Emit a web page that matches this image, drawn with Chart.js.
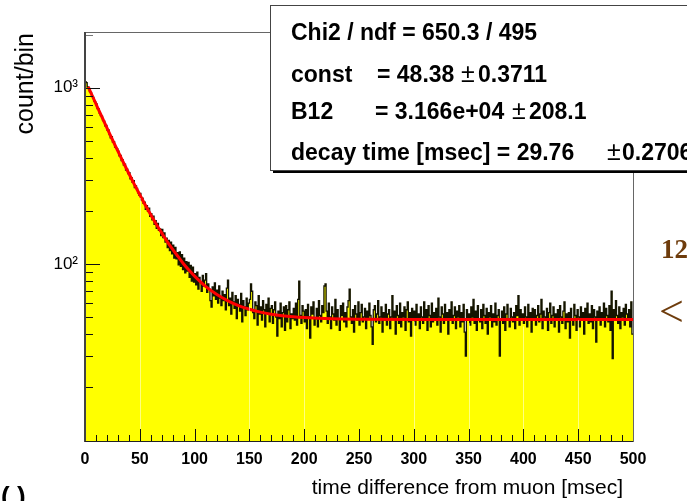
<!DOCTYPE html>
<html><head><meta charset="utf-8">
<script src="https://cdn.jsdelivr.net/npm/chart.js@4.4.1/dist/chart.umd.min.js"></script>
<style>html,body{margin:0;padding:0;background:#fff;overflow:hidden}#wrap{width:687px;height:501px;position:relative}</style>
</head><body><div id="wrap"><canvas id="c" width="687" height="501"></canvas></div>
<script>
// ---- data ----
const xTickLabels = ['0','50','100','150','200','250','300','350','400','450','500'];
const yTickValues = [100, 1000];
const yTickLabels = ['10\u00B2', '10\u00B3'];
const xTitle = 'time difference from muon [msec]';
const yTitle = 'count/bin';
// counts per 1 msec bin, bins 0..499
const counts = [
1082,1068,1009,1003,951,940,894,880,839,829,
808,760,758,716,694,689,651,647,608,611,
574,577,541,520,527,492,494,460,455,449,
437,410,413,386,389,364,368,341,345,326,
330,304,309,290,297,271,277,268,253,246,
251,231,236,221,224,204,214,199,207,186,
193,178,187,168,176,159,170,155,158,145,
157,141,150,133,140,124,136,119,133,114,
128,108,124,107,116,99,117,97,113,93,
108,89,103,91,102,84,98,80,96,79,
88,76,90,72,84,79,70,86,75,81,
88,69,77,72,62,57,74,66,78,63,
71,60,75,64,58,70,62,67,55,73,
81,58,64,52,69,61,56,66,49,63,
59,54,68,47,62,57,51,64,55,60,
63,77,70,53,49,61,58,45,66,52,
57,48,62,55,44,59,53,64,47,56,
58,46,55,61,50,39,54,49,60,44,
53,57,42,58,47,55,61,43,52,49,
56,48,60,45,63,80,51,46,58,54,
47,55,43,59,50,38,57,52,61,45,
49,56,44,62,51,47,58,53,75,77,
54,46,60,50,43,57,52,48,63,45,
55,49,42,58,51,60,47,53,44,57,
62,72,50,46,55,41,58,52,48,61,
45,53,59,47,50,56,43,54,49,60,
51,44,35,55,58,47,52,62,46,50,
57,41,53,48,59,45,52,55,43,50,
66,49,54,40,58,51,46,60,44,53,
50,57,42,55,61,47,53,39,56,49,
54,45,59,48,52,43,57,50,46,61,
48,55,42,58,51,44,60,47,53,49,
56,45,64,50,41,57,52,46,59,48,
53,40,55,49,61,46,51,57,43,54,
50,58,44,53,47,59,41,30,55,48,
52,45,57,50,63,46,54,42,58,49,
47,55,43,59,51,46,56,40,53,50,
58,44,52,47,60,45,51,55,30,49,
54,46,57,42,52,59,48,44,56,50,
47,53,43,58,51,66,45,55,49,52,
46,57,50,44,59,48,53,41,56,49,
55,45,51,58,47,52,63,43,54,50,
48,56,42,53,60,46,51,57,44,52,
49,55,41,58,50,46,54,61,43,52,
47,53,38,56,49,45,59,51,42,55,
50,44,57,48,53,40,56,49,60,46,
52,47,58,43,55,50,36,54,48,57,
45,53,49,60,44,56,51,47,58,42,
70,29,55,48,62,51,46,57,43,53,
50,56,45,59,52,48,55,44,61,40
];
// fitted curve, read at sample times
const fitT = [3,5,10,15,20,25,30,35,40,45,50,55,60,65,70,75,80,85,90,95,100,110,120,130,140,150,160,170,180,190,200,225,250,300,350,400,450,500];
const fitY = [1010,948,809,691,592,508,437,377,326,283,247,216,190,168,150,134,121,110,100,92.1,85.3,74.6,67.3,61.9,58.0,55.3,53.3,51.9,50.9,50.2,49.7,48.9,48.6,48.4,48.4,48.4,48.4,48.4];
const statsRows = [
  ['Chi2 / ndf = 650.3 / 495'],
  ['const', '= 48.38', '\u00B1', '0.3711'],
  ['B12', '= 3.166e+04', '\u00B1', '208.1'],
  ['decay time [msec] = 29.76', '\u00B1', '0.2706']
];
const sideLabels = ['12', '<'];
const cornerLabel = '( )';

// ---- chart ----
const histPoints = counts.map((v, i) => ({x: i, y: v}));
histPoints.push({x: counts.length, y: counts[counts.length - 1]});
const fitPoints = fitT.map((t, i) => ({x: t, y: fitY[i]}));

const SANS = '"Liberation Sans", Arial, sans-serif';
const NARROW = '"Liberation Sans Narrow", "Liberation Sans", Arial, sans-serif';

const decor = {
  id: 'decor',
  beforeDraw(chart) {
    const ctx = chart.ctx;
    ctx.save(); ctx.fillStyle = '#fff'; ctx.fillRect(0, 0, chart.width, chart.height); ctx.restore();
  },
  afterDatasetsDraw(chart) {
    const ctx = chart.ctx, ca = chart.chartArea;
    const xs = chart.scales.x, ys = chart.scales.y;
    ctx.save();
    // faint light lines inside the fill
    ctx.strokeStyle = 'rgba(255,255,255,0.5)'; ctx.lineWidth = 1;
    [50,150,200,300,350,400,450].forEach(v => {
      const px = Math.round(xs.getPixelForValue(v)) + 0.5;
      const top = ys.getPixelForValue(Math.min(counts[v - 1], counts[v])) + 3;
      ctx.beginPath(); ctx.moveTo(px, ca.bottom); ctx.lineTo(px, top); ctx.stroke();
    });
    // tick marks (inside)
    ctx.strokeStyle = '#111'; ctx.lineWidth = 1;
    xs.ticks.forEach(t => {
      const v = t.value;
      const px = Math.round(xs.getPixelForValue(v)) + 0.5;
      const len = (v % 50 === 0) ? 12 : 6;
      ctx.beginPath(); ctx.moveTo(px, ca.bottom); ctx.lineTo(px, ca.bottom - len); ctx.stroke();
    });
    ys.ticks.forEach(t => {
      const v = t.value;
      if (v < ys.min || v > ys.max) return;
      const e = Math.floor(Math.log10(v) + 1e-9);
      const d = v / Math.pow(10, e);
      if (Math.abs(d - Math.round(d)) > 1e-6) return;
      const py = Math.round(ys.getPixelForValue(v)) + 0.5;
      const len = Math.round(d) === 1 ? 15 : 8;
      ctx.strokeStyle = py < ys.getPixelForValue(1000) - 2 ? '#777' : '#111';
      ctx.beginPath(); ctx.moveTo(ca.left, py); ctx.lineTo(ca.left + len, py); ctx.stroke();
    });
    // frame
    ctx.strokeStyle = '#666'; ctx.lineWidth = 1;
    ctx.strokeRect(Math.round(ca.left) + 0.5, Math.round(ca.top) + 0.5, Math.round(ca.right - ca.left), Math.round(ca.bottom - ca.top));
    ctx.strokeStyle = '#444'; ctx.lineWidth = 2;
    ctx.beginPath(); ctx.moveTo(Math.round(ca.left), ca.top); ctx.lineTo(Math.round(ca.left), ca.bottom + 1); ctx.stroke();
    ctx.strokeStyle = '#222'; ctx.lineWidth = 1;
    ctx.beginPath(); ctx.moveTo(ca.left, Math.round(ca.bottom) + 0.5); ctx.lineTo(ca.right, Math.round(ca.bottom) + 0.5); ctx.stroke();
    ctx.restore();
  },
  afterDraw(chart) {
    const ctx = chart.ctx;
    ctx.save();
    // stats box
    ctx.fillStyle = '#fff';
    ctx.fillRect(270.5, 5.5, 430, 165);
    ctx.strokeStyle = '#444'; ctx.lineWidth = 1;
    ctx.strokeRect(270.5, 5.5, 430, 165);
    ctx.strokeStyle = '#000'; ctx.lineWidth = 2;
    ctx.beginPath(); ctx.moveTo(273, 172); ctx.lineTo(690, 172); ctx.stroke();
    ctx.fillStyle = '#000';
    ctx.textBaseline = 'alphabetic'; ctx.textAlign = 'left';
    const B = 'bold 23px ' + SANS, N = '25px ' + SANS;
    const put = (txt, x, y, f) => { ctx.font = f; ctx.fillText(txt, x, y); };
    put(statsRows[0][0], 291, 39.5, B);
    put(statsRows[1][0], 291, 81.5, B); put(statsRows[1][1], 377, 81.5, B); put(statsRows[1][2], 461, 81.5, N); put(statsRows[1][3], 478, 81.5, B);
    put(statsRows[2][0], 291, 119, B); put(statsRows[2][1], 375, 119, B); put(statsRows[2][2], 512, 119, N); put(statsRows[2][3], 529, 119, B);
    put(statsRows[3][0], 291, 159.5, B); put(statsRows[3][1], 607, 159.5, N); put(statsRows[3][2], 622, 159.5, B);
    // axis titles
    ctx.font = '21px ' + SANS; ctx.textAlign = 'right';
    ctx.fillText(xTitle, 623, 494);
    ctx.save();
    ctx.translate(33, 33); ctx.rotate(-Math.PI / 2);
    ctx.font = '25px ' + SANS; ctx.textAlign = 'right';
    ctx.fillText(yTitle, 0, 0);
    ctx.restore();
    // stray labels at the right and bottom-left edges
    ctx.fillStyle = '#6e3c0c'; ctx.textAlign = 'left';
    ctx.font = 'bold 27px "Liberation Serif", serif';
    ctx.fillText(sideLabels[0], 661, 258);
    ctx.font = '44px "Liberation Serif", serif';
    ctx.fillText(sideLabels[1], 659, 326);
    ctx.fillStyle = '#000';
    ctx.font = 'bold 26px ' + SANS;
    ctx.fillText(cornerLabel, 1, 505);
    ctx.restore();
  }
};

new Chart(document.getElementById('c'), {
  type: 'line',
  data: {
    datasets: [
      {
        label: 'fit', data: fitPoints, borderColor: '#ff0000', borderWidth: 3,
        pointRadius: 0, fill: false, cubicInterpolationMode: 'monotone', order: 0
      },
      {
        label: 'hist', data: histPoints, borderColor: '#141400', borderWidth: 1.3,
        backgroundColor: '#ffff00', pointRadius: 0, fill: 'start', stepped: true, order: 1
      }
    ]
  },
  options: {
    responsive: false, animation: false, events: [],
    layout: {padding: {left: 0, right: 54, top: 32, bottom: 0}},
    plugins: {legend: {display: false}, tooltip: {enabled: false}},
    scales: {
      x: {
        type: 'linear', min: 0, max: 500,
        grid: {display: false, drawTicks: false}, border: {display: false},
        ticks: {
          stepSize: 10, maxTicksLimit: 100, autoSkip: false, maxRotation: 0, padding: 9,
          color: '#000', font: {family: NARROW, size: 16, weight: 'bold'},
          callback: (v) => { const i = xTickLabels.indexOf(String(v)); return i >= 0 ? xTickLabels[i] : ''; }
        },
        afterFit: (s) => { s.height = 60; }
      },
      y: {
        type: 'logarithmic', min: 9.9, max: 2070,
        grid: {display: false, drawTicks: false}, border: {display: false},
        ticks: {
          autoSkip: false, padding: 7, color: '#000',
          font: {family: NARROW, size: 17, weight: 'normal'},
          callback: (v) => { const i = yTickValues.indexOf(v); return i >= 0 ? yTickLabels[i] : ''; }
        },
        afterFit: (s) => { s.width = 85; }
      }
    }
  },
  plugins: [decor]
});
</script></body></html>
